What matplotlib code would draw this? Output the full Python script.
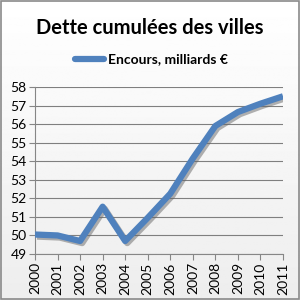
import numpy as np
import matplotlib
matplotlib.use("Agg")
import matplotlib.pyplot as plt
import matplotlib.patheffects as pe
from matplotlib.patches import Rectangle

years = ["2000", "2001", "2002", "2003", "2004", "2005",
         "2006", "2007", "2008", "2009", "2010", "2011"]
encours = [50.05, 50.0, 49.7, 51.55, 49.7, 50.95,
           52.25, 54.15, 55.9, 56.65, 57.1, 57.5]
y_ticks = [49, 50, 51, 52, 53, 54, 55, 56, 57, 58]

plt.rcParams["font.family"] = ["Lato", "DejaVu Sans"]

fig = plt.figure(figsize=(3, 3), dpi=100)

# light gradient background
bg = fig.add_axes([0, 0, 1, 1], zorder=-10)
grad = np.linspace(1.0, 0.93, 256).reshape(-1, 1)
bg.imshow(grad, cmap="gray", vmin=0, vmax=1, aspect="auto", extent=[0, 1, 0, 1])
bg.add_patch(Rectangle((0.003, 0.003), 0.994, 0.994, fill=False,
                       edgecolor="#8a8a8a", linewidth=1.2))
bg.set_xlim(0, 1)
bg.set_ylim(0, 1)
bg.axis("off")

ax = fig.add_axes([35 / 300, 46 / 300, 248 / 300, 167 / 300])
ax.patch.set_alpha(0)

x = np.arange(len(years))
ax.plot(x, encours, color="#4f81bd", linewidth=4.5, solid_capstyle="butt",
        path_effects=[pe.SimpleLineShadow(offset=(1.5, -1.5), shadow_color="#666666", alpha=0.5),
                      pe.Normal()], zorder=3)

ax.set_xlim(0, len(years) - 1)
ax.set_ylim(49, 58)
ax.set_yticks(y_ticks)
ax.set_yticklabels([str(v) for v in y_ticks], fontsize=10)
ax.set_xticks(x)
ax.set_xticklabels(years, rotation=90, fontsize=10)
ax.grid(axis="y", color="#7f7f7f", linewidth=0.8)
ax.set_axisbelow(True)
for s in ["top", "right"]:
    ax.spines[s].set_visible(False)
ax.spines["left"].set_color("#868686")
ax.spines["bottom"].set_color("#868686")
ax.tick_params(axis="both", color="#868686", length=4, pad=2)

fig.text(0.5, 0.907, "Dette cumulées des villes", ha="center", va="center",
         fontsize=14.5, fontweight="bold")

# legend
fig.add_artist(plt.Line2D([75 / 300, 104 / 300], [241 / 300, 241 / 300],
                          color="#4f81bd", linewidth=4.5, solid_capstyle="round"))
fig.text(108 / 300, 241 / 300, "Encours, milliards €", ha="left", va="center",
         fontsize=10, fontweight="bold")

fig.savefig("out.png", dpi=100)
